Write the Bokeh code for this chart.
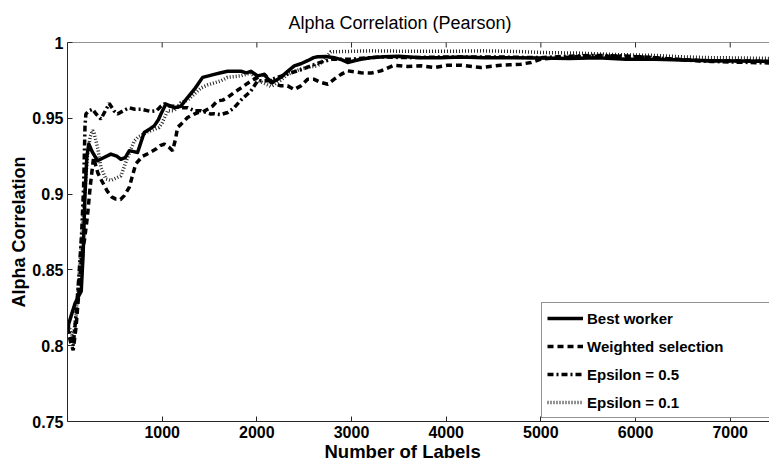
import math
from bokeh.plotting import figure
from bokeh.models import Range1d, FixedTicker, Legend, LegendItem, Title, Span
from bokeh.embed import file_html
from bokeh.resources import INLINE

# ---- data ----
best_x = [1, 40, 80, 120, 145, 165, 185, 205, 225, 260, 318, 380, 458, 520, 564, 610, 652, 700, 740, 775, 810,
          870, 916, 960, 987, 1039, 1090, 1127, 1198, 1268, 1339, 1427, 1490, 1550, 1620, 1691, 1760, 1832, 1890,
          1937, 2008, 2078, 2148, 2200, 2254, 2325, 2395, 2465, 2536, 2600, 2642, 2730, 2817, 2900, 2959, 3030,
          3099, 3200, 3345, 3500, 3733, 3944, 4156, 4400, 4700, 5000, 5300, 5600, 5900, 6200, 6500, 6800, 7100, 7415]
best_y = [0.812, 0.820, 0.828, 0.833, 0.836, 0.860, 0.900, 0.925, 0.933, 0.928, 0.922, 0.924, 0.9264, 0.925, 0.923,
          0.924, 0.9286, 0.928, 0.9274, 0.934, 0.9406, 0.943, 0.945, 0.949, 0.9528, 0.9594, 0.958, 0.957, 0.958,
          0.9637, 0.969, 0.977, 0.978, 0.979, 0.980, 0.981, 0.981, 0.981, 0.980, 0.981, 0.978, 0.979, 0.9736, 0.975,
          0.977, 0.981, 0.9846, 0.986, 0.988, 0.990, 0.9906, 0.9908, 0.990, 0.9885, 0.9868, 0.988, 0.989, 0.990,
          0.9906, 0.991, 0.990, 0.990, 0.9905, 0.990, 0.990, 0.9898, 0.9895, 0.990, 0.989, 0.989, 0.9885, 0.988,
          0.9878, 0.9875]

weighted_x = [1, 30, 60, 90, 120, 150, 180, 210, 240, 275, 320, 360, 420, 470, 511, 560, 600, 652, 690, 722, 793,
              860, 934, 980, 1021, 1070, 1110, 1140, 1163, 1198, 1268, 1339, 1374, 1420, 1480, 1530, 1585, 1640,
              1691, 1760, 1832, 1900, 1972, 2078, 2184, 2254, 2325, 2395, 2465, 2536, 2600, 2677, 2750, 2817, 2890,
              2959, 3099, 3205, 3310, 3451, 3592, 3733, 3874, 4015, 4156, 4367, 4578, 4789, 4895, 5001, 5200, 5500,
              5800, 6100, 6400, 6700, 7000, 7415]
weighted_y = [0.812, 0.803, 0.797, 0.812, 0.835, 0.860, 0.870, 0.885, 0.905, 0.924, 0.914, 0.909, 0.902, 0.898,
              0.8967, 0.8965, 0.899, 0.9044, 0.913, 0.920, 0.925, 0.927, 0.9297, 0.932, 0.933, 0.931, 0.9286, 0.936,
              0.944, 0.946, 0.9505, 0.9528, 0.9538, 0.954, 0.956, 0.958, 0.9615, 0.962, 0.9637, 0.967, 0.970, 0.973,
              0.9758, 0.979, 0.9727, 0.9714, 0.9714, 0.969, 0.9714, 0.9758, 0.9758, 0.9736, 0.9725, 0.9758, 0.979,
              0.9813, 0.980, 0.9798, 0.9813, 0.985, 0.9842, 0.9846, 0.9835, 0.985, 0.985, 0.9835, 0.985, 0.9857,
              0.9868, 0.989, 0.990, 0.991, 0.991, 0.9905, 0.989, 0.988, 0.988, 0.9875]

eps05_x = [1, 30, 60, 90, 120, 150, 170, 185, 194, 230, 265, 300, 353, 400, 441, 490, 529, 590, 652, 710, 775, 881,
           940, 987, 1021, 1080, 1127, 1198, 1268, 1339, 1409, 1515, 1550, 1620, 1691, 1761, 1832, 1937, 2008, 2113,
           2219, 2360, 2465, 2571, 2677, 2800, 3000, 3300, 3600, 4000, 4500, 5000, 5300, 5600, 5900, 6200, 6500,
           6800, 7100, 7415]
eps05_y = [0.815, 0.806, 0.800, 0.820, 0.845, 0.875, 0.905, 0.945, 0.9528, 0.955, 0.956, 0.953, 0.9495, 0.955,
           0.9598, 0.955, 0.9528, 0.955, 0.957, 0.956, 0.956, 0.9545, 0.955, 0.958, 0.9595, 0.958, 0.958, 0.957,
           0.957, 0.955, 0.955, 0.9528, 0.953, 0.9525, 0.9538, 0.957, 0.962, 0.968, 0.9747, 0.9747, 0.977, 0.980,
           0.982, 0.9846, 0.987, 0.989, 0.989, 0.9905, 0.990, 0.9905, 0.9905, 0.990, 0.991, 0.9915, 0.991, 0.990,
           0.9885, 0.9875, 0.987, 0.9865]

eps01_x = [1, 30, 60, 90, 120, 150, 180, 210, 240, 265, 282, 320, 353, 406, 458, 493, 564, 634, 705, 740, 846, 968,
           1000, 1057, 1127, 1198, 1270, 1409, 1480, 1620, 1691, 1832, 1937, 2010, 2080, 2150, 2250, 2325, 2465, 2571,
           2642, 2700, 2782, 2900, 3200, 3600, 4000, 4400, 4800, 5000, 5400, 5800, 6200, 6500, 6800, 7100, 7415]
eps01_y = [0.815, 0.810, 0.805, 0.820, 0.845, 0.870, 0.900, 0.925, 0.938, 0.942, 0.940, 0.930, 0.9175, 0.910, 0.909,
           0.910, 0.912, 0.924, 0.935, 0.9373, 0.941, 0.944, 0.947, 0.955, 0.955, 0.9604, 0.962, 0.970, 0.972,
           0.9747, 0.977, 0.978, 0.980, 0.975, 0.973, 0.971, 0.975, 0.979, 0.9825, 0.984, 0.9846, 0.988, 0.9939,
           0.994, 0.9945, 0.9942, 0.9942, 0.9945, 0.994, 0.9934, 0.993, 0.992, 0.9915, 0.9905, 0.990, 0.9898, 0.9895]

series_names = ["Best worker", "Weighted selection", "Epsilon = 0.5", "Epsilon = 0.1"]
x_ticks = [1000, 2000, 3000, 4000, 5000, 6000, 7000]
y_ticks = [0.75, 0.8, 0.85, 0.9, 0.95, 1.0]
y_tick_labels = ["0.75", "0.8", "0.85", "0.9", "0.95", "1"]
x_min, x_max, y_min, y_max = 0, 7415, 0.75, 1.0

FONT = "Liberation Sans"
AX = "#262626"

p = figure(width=769, height=466, output_backend="svg", toolbar_location=None,
           x_range=Range1d(x_min, x_max), y_range=Range1d(y_min, y_max),
           min_border_left=67, min_border_right=0, min_border_top=42, min_border_bottom=45)
p.outline_line_color = None
p.grid.visible = False
p.background_fill_color = "white"

p.title.text = "Alpha Correlation (Pearson)"
p.title.align = "left"
p.title.offset = 221
p.title.text_font = FONT
p.title.text_font_size = "18px"
p.title.text_font_style = "normal"
p.title.text_color = "black"
p.title.standoff = 20

for ax in (p.xaxis[0], p.yaxis[0]):
    ax.axis_line_color = AX
    ax.major_tick_line_color = AX
    ax.major_tick_in = 5
    ax.major_tick_out = 0
    ax.minor_tick_line_color = None
    ax.major_label_text_font = FONT
    ax.major_label_text_font_size = "16px"
    ax.major_label_text_font_style = "bold"
    ax.major_label_text_color = "black"

p.xaxis[0].ticker = FixedTicker(ticks=x_ticks)
p.xaxis[0].major_label_standoff = 4
p.yaxis[0].ticker = FixedTicker(ticks=y_ticks)
p.yaxis[0].major_label_overrides = {t: s for t, s in zip(y_ticks, y_tick_labels)}
p.yaxis[0].major_label_standoff = 4
p.yaxis[0].axis_label = "Alpha Correlation"
p.yaxis[0].axis_label_text_font = FONT
p.yaxis[0].axis_label_text_font_size = "18px"
p.yaxis[0].axis_label_text_font_style = "bold"
p.yaxis[0].axis_label_text_color = "black"
p.yaxis[0].axis_label_standoff = 0

# box line on top with inward ticks (MATLAB "box on")
p.add_layout(Span(location=y_max, dimension="width", line_color=AX, line_width=1))
p.scatter(x_ticks, [y_max] * len(x_ticks), marker="dash", angle=math.pi / 2, size=10,
          line_color=AX, line_width=1)

# x axis label
xlabel = Title(text="Number of Labels", align="left", offset=257, vertical_align="top",
               text_font=FONT, text_font_size="18.5px", text_font_style="bold",
               text_color="black", standoff=0)
p.add_layout(xlabel, "below")

r_best = p.line(best_x, best_y, line_color="black", line_width=3.5, line_join="round")
r_w = p.line(weighted_x, weighted_y, line_color="black", line_width=3.5, line_dash="6 4", line_cap="butt")
r_e5 = p.line(eps05_x, eps05_y, line_color="black", line_width=3.5, line_dash="6 3 2 3", line_cap="butt")
r_e1 = p.line(eps01_x, eps01_y, line_color="black", line_width=3.5, line_dash="1 2", line_cap="butt", line_alpha=0.85)

legend = Legend(items=[LegendItem(label=series_names[0], renderers=[r_best]),
                       LegendItem(label=series_names[1], renderers=[r_w]),
                       LegendItem(label=series_names[2], renderers=[r_e5]),
                       LegendItem(label=series_names[3], renderers=[r_e1])],
                location=(474, 3), label_width=260, label_height=20, glyph_width=36, glyph_height=20,
                label_standoff=4, spacing=8, padding=5, margin=0,
                label_text_font=FONT, label_text_font_size="15px", label_text_font_style="bold",
                label_text_color="black", border_line_color=AX, border_line_width=1,
                background_fill_color="white", background_fill_alpha=1.0)
p.add_layout(legend)

open("out.html", "w").write(file_html(p, INLINE))
